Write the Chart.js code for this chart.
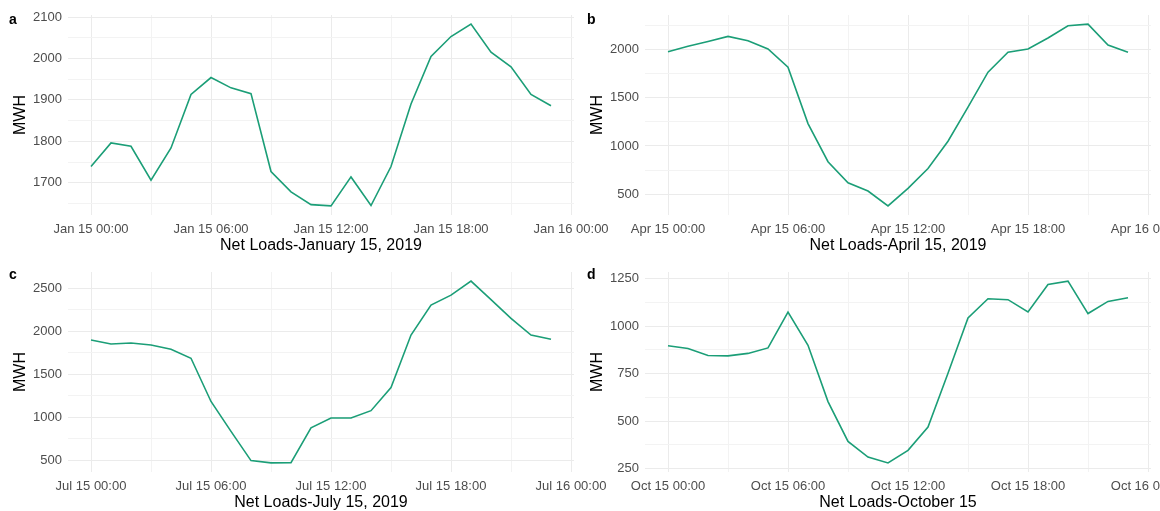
<!DOCTYPE html>
<html><head><meta charset="utf-8">
<script src="https://cdn.jsdelivr.net/npm/chart.js@4/dist/chart.umd.min.js"></script>
<style>
html,body{margin:0;padding:0;background:#fff;width:1160px;height:511px;overflow:hidden;position:relative;}
canvas{position:absolute;}
</style></head><body>
<canvas id="pa" width="640" height="260" style="left:0px;top:0px;width:640px;height:260px"></canvas>
<canvas id="pb" width="640" height="260" style="left:577px;top:0px;width:640px;height:260px"></canvas>
<canvas id="pc" width="640" height="260" style="left:0px;top:257px;width:640px;height:260px"></canvas>
<canvas id="pd" width="640" height="260" style="left:577px;top:257px;width:640px;height:260px"></canvas>
<script>
// ---- data ----
const hours = [0,1,2,3,4,5,6,7,8,9,10,11,12,13,14,15,16,17,18,19,20,21,22,23];
const janLoads = [1739,1796,1788,1706,1784,1913,1954,1929,1915,1727,1678,1647,1644,1714,1645,1739,1890,2005,2053,2083,2015,1980,1913,1886];
const aprLoads = [1979,2035,2085,2138,2093,2007,1818,1232,836,618,532,377,560,766,1049,1404,1766,1973,2007,2121,2248,2266,2049,1973];
const julLoads = [1900,1854,1865,1842,1792,1688,1185,837,497,470,473,879,993,993,1078,1347,1958,2306,2422,2586,2370,2152,1958,1910];
const octLoads = [897,883,846,844,857,886,1075,900,603,393,311,280,346,469,752,1044,1145,1140,1075,1220,1238,1067,1131,1150];

const xTickHours = [0,6,12,18,24];
const janXLabels = ['Jan 15 00:00','Jan 15 06:00','Jan 15 12:00','Jan 15 18:00','Jan 16 00:00'];
const aprXLabels = ['Apr 15 00:00','Apr 15 06:00','Apr 15 12:00','Apr 15 18:00','Apr 16 00:00'];
const julXLabels = ['Jul 15 00:00','Jul 15 06:00','Jul 15 12:00','Jul 15 18:00','Jul 16 00:00'];
const octXLabels = ['Oct 15 00:00','Oct 15 06:00','Oct 15 12:00','Oct 15 18:00','Oct 16 00:00'];

const janYTicks = [1700,1800,1900,2000,2100];
const aprYTicks = [500,1000,1500,2000];
const julYTicks = [500,1000,1500,2000,2500];
const octYTicks = [250,500,750,1000,1250];

const titles = ['Net Loads-January 15, 2019','Net Loads-April 15, 2019','Net Loads-July 15, 2019','Net Loads-October 15'];
const letters = ['a','b','c','d'];

// ---- rendering ----
const FONT = "'Liberation Sans', Arial, sans-serif";
const LINE = '#1b9e77';
const GRID_MAJOR = '#ebebeb';
const GRID_MINOR = '#f3f3f3';

const letterPlugin = {
  id: 'panelLetter',
  afterDraw(chart, args, opts) {
    const ctx = chart.ctx;
    ctx.save();
    ctx.font = 'bold 14px ' + FONT;
    ctx.fillStyle = '#000';
    ctx.textBaseline = 'alphabetic';
    ctx.textAlign = 'left';
    ctx.fillText(opts.text, opts.x, opts.y);
    ctx.restore();
  }
};

function makePanel(id, letter, letterX, letterY, values, xLabels, yMajor, title) {
  const lo = Math.min(...values), hi = Math.max(...values);
  const pad = (hi - lo) * 0.05;
  const yMin = lo - pad, yMax = hi + pad;
  const step = yMajor[1] - yMajor[0];
  const yAll = [];
  for (let v = yMajor[0] - step / 2; v <= yMajor[yMajor.length - 1] + step / 2 + 1e-9; v += step / 2) {
    if (v >= yMin && v <= yMax) yAll.push(v);
  }
  const xAll = [];
  for (let h = 0; h <= 24; h += 3) xAll.push(h);

  new Chart(document.getElementById(id), {
    type: 'line',
    data: {
      datasets: [{
        data: hours.map((h, i) => ({x: h, y: values[i]})),
        borderColor: LINE,
        borderWidth: 1.6,
        pointRadius: 0,
        tension: 0,
        fill: false
      }]
    },
    plugins: [letterPlugin],
    options: {
      responsive: false,
      animation: false,
      devicePixelRatio: 1,
      layout: {padding: {left: 0, top: 15, right: 66, bottom: 0}},
      plugins: {
        legend: {display: false},
        tooltip: {enabled: false},
        panelLetter: {text: letter, x: letterX, y: letterY}
      },
      scales: {
        x: {
          type: 'linear',
          min: -1.15,
          max: 24.15,
          afterBuildTicks: s => { s.ticks = xAll.map(v => ({value: v})); },
          afterFit: s => { s.height = 45; },
          border: {display: false},
          grid: {
            drawTicks: false,
            color: c => (c.tick && xTickHours.includes(c.tick.value)) ? GRID_MAJOR : GRID_MINOR,
            lineWidth: 1
          },
          ticks: {
            autoSkip: false,
            maxRotation: 0,
            minRotation: 0,
            padding: 7,
            color: '#4d4d4d',
            font: {family: FONT, size: 13},
            callback: v => { const i = xTickHours.indexOf(v); return i >= 0 ? xLabels[i] : ''; }
          },
          title: {
            display: true,
            text: title,
            color: '#000',
            font: {family: FONT, size: 16},
            padding: {top: 0, bottom: 5}
          }
        },
        y: {
          type: 'linear',
          min: yMin,
          max: yMax,
          afterBuildTicks: s => { s.ticks = yAll.map(v => ({value: v})); },
          afterFit: s => { s.width = 68; },
          border: {display: false},
          grid: {
            drawTicks: false,
            color: c => (c.tick && yMajor.includes(c.tick.value)) ? GRID_MAJOR : GRID_MINOR,
            lineWidth: 1
          },
          ticks: {
            autoSkip: false,
            padding: 6,
            color: '#4d4d4d',
            font: {family: FONT, size: 13},
            callback: v => yMajor.includes(v) ? String(v) : ''
          },
          title: {
            display: true,
            text: 'MWH',
            color: '#000',
            font: {family: FONT, size: 16},
            padding: {top: 11, bottom: 0}
          }
        }
      }
    }
  });
}

makePanel('pa', letters[0], 9, 24, janLoads, janXLabels, janYTicks, titles[0]);
makePanel('pb', letters[1], 10, 24, aprLoads, aprXLabels, aprYTicks, titles[1]);
makePanel('pc', letters[2], 9, 22, julLoads, julXLabels, julYTicks, titles[2]);
makePanel('pd', letters[3], 10, 22, octLoads, octXLabels, octYTicks, titles[3]);
</script>
</body></html>
